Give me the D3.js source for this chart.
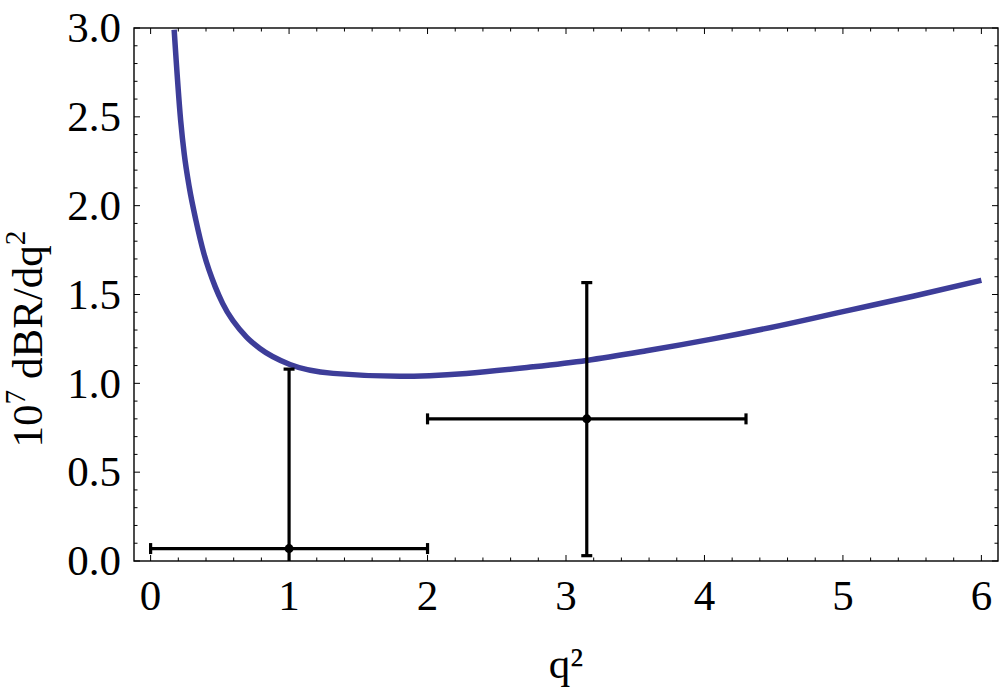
<!DOCTYPE html>
<html>
<head>
<meta charset="utf-8">
<script src="https://cdn.jsdelivr.net/npm/d3@7"></script>
<style>
  html, body { margin: 0; padding: 0; background: #fff; }
  svg { display: block; }
  text { font-family: "Liberation Serif", "Times New Roman", serif; fill: #000; }
</style>
</head>
<body>
<svg id="chart" width="1000" height="691"></svg>
<script>
// ---- data ----
const curveX = [0.17, 0.217, 0.243, 0.279, 0.327, 0.385, 0.467, 0.52, 0.693, 0.789, 1.006, 1.318, 1.80, 2.28, 2.762, 3.148, 3.581, 4.062, 4.544, 5.025, 5.506, 6.0];
const curveY = [2.99, 2.48, 2.29, 2.105, 1.918, 1.73, 1.543, 1.45, 1.26, 1.196, 1.106, 1.056, 1.040, 1.056, 1.093, 1.129, 1.183, 1.25, 1.325, 1.408, 1.49, 1.58];

const pointX    = [1.0, 3.15];
const pointY    = [0.07, 0.80];
const pointXLow = [0.0, 2.0];
const pointXHigh= [2.0, 4.3];
const pointYLow = [-0.94, 0.03];
const pointYHigh= [1.08, 1.567];

const xTickValues = [0, 1, 2, 3, 4, 5, 6];
const yTickValues = [0.0, 0.5, 1.0, 1.5, 2.0, 2.5, 3.0];
const xLabel = "q²";

// ---- layout ----
const svg = d3.select("#chart");
const L = 134, R = 998, T = 28, B = 561;
const x = d3.scaleLinear().domain([-0.12, 6.12]).range([L, R]);
const y = d3.scaleLinear().domain([0, 3]).range([B, T]);

svg.append("defs").append("clipPath").attr("id", "clip")
  .append("rect").attr("x", L).attr("y", T).attr("width", R - L).attr("height", B - T);

// minor ticks
const xMinor = d3.range(0, 6.001, 0.2).map(v => +v.toFixed(2));
const yMinor = d3.range(0, 3.001, 0.1).map(v => +v.toFixed(2));
const isMajor = (v, step) => Math.abs(v / step - Math.round(v / step)) < 1e-6;

const tg = svg.append("g").attr("stroke", "#000").attr("stroke-width", 1);
xMinor.forEach(v => {
  const len = isMajor(v, 1) ? 6 : 3.5;
  const px = x(v);
  tg.append("line").attr("x1", px).attr("x2", px).attr("y1", B).attr("y2", B - len);
  tg.append("line").attr("x1", px).attr("x2", px).attr("y1", T).attr("y2", T + len);
});
yMinor.forEach(v => {
  const len = isMajor(v, 0.5) ? 6 : 3.5;
  const py = y(v);
  tg.append("line").attr("x1", L).attr("x2", L + len).attr("y1", py).attr("y2", py);
  tg.append("line").attr("x1", R).attr("x2", R - len).attr("y1", py).attr("y2", py);
});

// frame
svg.append("rect").attr("x", L).attr("y", T).attr("width", R - L).attr("height", B - T)
  .attr("fill", "none").attr("stroke", "#000").attr("stroke-width", 1.4);

// tick labels
const fs = 43;
svg.append("g").selectAll("text").data(xTickValues).join("text")
  .attr("x", d => x(d)).attr("y", 610).attr("text-anchor", "middle")
  .attr("font-size", fs).text(d => d3.format("d")(d));
svg.append("g").selectAll("text").data(yTickValues).join("text")
  .attr("x", 121).attr("y", d => y(d) + fs * 0.33).attr("text-anchor", "end")
  .attr("font-size", fs).text(d => d3.format(".1f")(d));

// axis labels
svg.append("text").attr("x", (L + R) / 2).attr("y", 678).attr("text-anchor", "middle")
  .attr("font-size", fs).text(xLabel);

const yl = svg.append("text").attr("transform", "translate(42,339) rotate(-90)")
  .attr("text-anchor", "middle").attr("font-size", fs);
yl.append("tspan").text("10");
yl.append("tspan").attr("font-size", fs * 0.68).attr("dy", -fs * 0.4).text("7");
yl.append("tspan").attr("dy", fs * 0.4).text(" dBR/dq");
yl.append("tspan").attr("font-size", fs * 0.68).attr("dy", -fs * 0.4).text("2");

// plot content
const plot = svg.append("g").attr("clip-path", "url(#clip)");
const line = d3.line().x(d => x(d[0])).y(d => y(d[1])).curve(d3.curveMonotoneX);
plot.append("path").datum(d3.zip(curveX, curveY)).attr("d", line)
  .attr("fill", "none").attr("stroke", "#3d3d99").attr("stroke-width", 5.5);

const cap = 5.5;
pointX.forEach((px, i) => {
  const g = plot.append("g").attr("stroke", "#000").attr("stroke-width", 3.2).attr("fill", "#000");
  g.append("line").attr("x1", x(pointXLow[i])).attr("x2", x(pointXHigh[i])).attr("y1", y(pointY[i])).attr("y2", y(pointY[i]));
  g.append("line").attr("x1", x(px)).attr("x2", x(px)).attr("y1", y(pointYLow[i])).attr("y2", y(pointYHigh[i]));
  [pointXLow[i], pointXHigh[i]].forEach(v => g.append("line").attr("x1", x(v)).attr("x2", x(v))
    .attr("y1", y(pointY[i]) - cap).attr("y2", y(pointY[i]) + cap));
  [pointYLow[i], pointYHigh[i]].forEach(v => g.append("line").attr("y1", y(v)).attr("y2", y(v))
    .attr("x1", x(px) - cap).attr("x2", x(px) + cap));
  g.append("circle").attr("cx", x(px)).attr("cy", y(pointY[i])).attr("r", 4.5).attr("stroke", "none");
});
</script>
</body>
</html>
